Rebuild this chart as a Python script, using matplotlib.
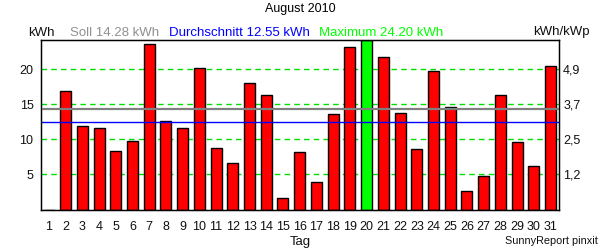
import matplotlib
matplotlib.use("Agg")
import matplotlib.pyplot as plt
import numpy as np

plt.rcParams['font.family'] = ['Liberation Sans', 'DejaVu Sans']

days = list(range(1, 32))
values = [0.0, 16.86, 11.86, 11.57, 8.29, 9.71, 23.57, 12.61, 11.57, 20.14,
          8.76, 6.57, 18.04, 16.29, 1.71, 8.14, 3.86, 13.57, 23.14, 24.20,
          21.71, 13.71, 8.57, 19.71, 14.57, 2.57, 4.76, 16.29, 9.57, 6.19, 20.43]
soll = 14.28
avg = 12.55
maximum = 24.20
left_ticks = [5, 10, 15, 20]
right_labels = ["1,2", "2,5", "3,7", "4,9"]

fig = plt.figure(figsize=(6, 2.5), dpi=100)
ax = fig.add_axes([0.0675, 0.162, 0.864, 0.678])

imax = int(np.argmax(values))
colors = ['#ff0000'] * len(values)
colors[imax] = '#00ff00'
ax.bar(days, values, width=0.66, color=colors, edgecolor='black', linewidth=1, zorder=2)

for t in left_ticks:
    ax.axhline(t, color='#00e000', linestyle=(0, (4, 3)), linewidth=1, zorder=1)
ax.axhline(soll, color='#808080', linewidth=1.6, zorder=3)
ax.axhline(avg, color='#0000ff', linewidth=1, zorder=3)

ax.set_xlim(0.5, 31.5)
ax.set_ylim(0, maximum)
ax.set_xticks(days)
ax.set_xticklabels([str(d) for d in days])
ax.set_yticks(left_ticks)
ax.tick_params(axis='both', length=0, labelsize=9, colors='#101010')
ax.tick_params(axis='x', pad=8)
ax.tick_params(axis='y', pad=5)
for s in ax.spines.values():
    s.set_linewidth(1)

ax2 = ax.twinx()
ax2.set_ylim(ax.get_ylim())
ax2.set_yticks(left_ticks)
ax2.set_yticklabels(right_labels)
ax2.tick_params(axis='y', length=0, labelsize=9, colors='#101010', pad=3)

fig.text(0.5, 0.965, "August 2010", ha='center', va='center', fontsize=9, color='black')
ty = 0.87
fs = 9.5
fig.text(0.047, ty, "kWh", ha='left', va='center', fontsize=fs, color='#101010')
fig.text(0.117, ty, "Soll %.2f kWh" % soll, ha='left', va='center', fontsize=fs, color='#909090')
fig.text(0.282, ty, "Durchschnitt %.2f kWh" % avg, ha='left', va='center', fontsize=fs, color='#0000ff')
fig.text(0.532, ty, "Maximum %.2f kWh" % maximum, ha='left', va='center', fontsize=fs, color='#00ff00')
fig.text(0.982, ty, "kWh/kWp", ha='right', va='center', fontsize=fs, color='#101010')
fig.text(0.5, 0.032, "Tag", ha='center', va='center', fontsize=fs, color='#101010')
fig.text(0.997, 0.035, "SunnyReport pinxit", ha='right', va='center', fontsize=7.8, color='#101010')

fig.savefig("out.png", dpi=100)
